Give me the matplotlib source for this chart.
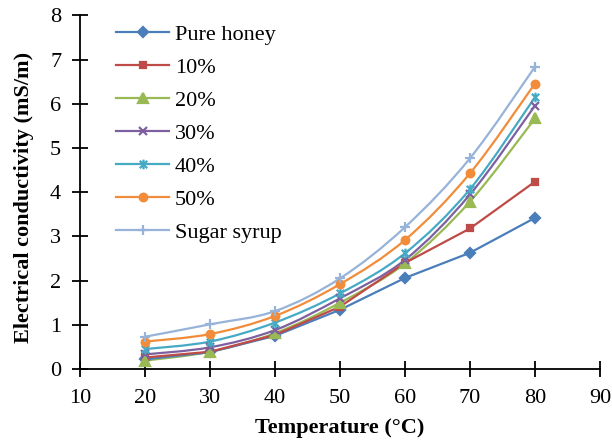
import numpy as np
import matplotlib.pyplot as plt
from matplotlib.path import Path
from matplotlib.patches import PathPatch

plt.rcParams['font.family'] = ['Liberation Serif', 'DejaVu Serif']

temperature = [20, 30, 40, 50, 60, 70, 80]

pure_honey = [0.22, 0.38, 0.75, 1.34, 2.06, 2.63, 3.42]
syrup_10 = [0.26, 0.39, 0.77, 1.41, 2.40, 3.18, 4.24]
syrup_20 = [0.19, 0.39, 0.81, 1.50, 2.39, 3.79, 5.67]
syrup_30 = [0.33, 0.49, 0.88, 1.60, 2.47, 3.95, 5.96]
syrup_40 = [0.45, 0.62, 1.05, 1.71, 2.62, 4.07, 6.15]
syrup_50 = [0.62, 0.79, 1.20, 1.92, 2.92, 4.43, 6.46]
sugar_syrup = [0.73, 1.01, 1.31, 2.05, 3.21, 4.77, 6.84]

labels = ['Pure honey', '10%', '20%', '30%', '40%', '50%', 'Sugar syrup']
series = [pure_honey, syrup_10, syrup_20, syrup_30, syrup_40, syrup_50, sugar_syrup]
colors = ['#4A7EBB', '#BE4B48', '#98B954', '#7D60A0', '#46AAC5', '#F18C3A', '#97B3D9']
smoothed = [False, False, True, True, True, True, True]

# x with a vertical bar through it
star = Path([(-1, -1), (1, 1), (-1, 1), (1, -1), (0, -1.3), (0, 1.3)],
            [Path.MOVETO, Path.LINETO, Path.MOVETO, Path.LINETO, Path.MOVETO, Path.LINETO])
markers = ['D', 's', '^', 'x', star, 'o', '+']
msizes = [5, 5, 6.5, 6, 7, 5.5, 7.5]


def smooth_path(x, y):
    # cubic Bezier segments through every point (Catmull-Rom style)
    pts = np.column_stack([x, y]).astype(float)
    ext = np.vstack([pts[0], pts, pts[-1]])
    verts = [pts[0]]
    codes = [Path.MOVETO]
    for i in range(len(pts) - 1):
        p0, p1, p2, p3 = ext[i], ext[i + 1], ext[i + 2], ext[i + 3]
        c1 = p1 + (p2 - p0) / 6
        c2 = p2 - (p3 - p1) / 6
        verts += [c1, c2, p2]
        codes += [Path.CURVE4] * 3
    return Path(verts, codes)


fig = plt.figure(figsize=(6.12, 4.4), dpi=100)
ax = fig.add_axes([0.1307, 0.1614, 0.8497, 0.8034])

for vals, lab, col, mk, ms, sm in zip(series, labels, colors, markers, msizes, smoothed):
    if sm:
        ax.add_patch(PathPatch(smooth_path(temperature, vals), fill=False,
                               edgecolor=col, lw=1.6, zorder=2))
        ax.plot(temperature, vals, ls='none', marker=mk, ms=ms, color=col,
                mec=col, mew=1.6, zorder=3)
        ax.plot([], [], color=col, lw=1.6, marker=mk, ms=ms, mew=1.6, label=lab)
    else:
        ax.plot(temperature, vals, color=col, lw=1.6, marker=mk, ms=ms, mew=1.6,
                label=lab, zorder=3)

ax.set_xlim(10, 90)
ax.set_ylim(0, 8)
ax.set_xticks(range(10, 91, 10))
ax.set_yticks(range(0, 9))
ax.spines['top'].set_visible(False)
ax.spines['right'].set_visible(False)
ax.spines['left'].set_linewidth(1.3)
ax.spines['bottom'].set_linewidth(1.3)
ax.tick_params(direction='inout', length=11, width=1.3, labelsize=16)
ax.tick_params(axis='x', pad=9)
ax.tick_params(axis='y', pad=8)

ax.set_xlabel('Temperature (°C)', fontsize=16, fontweight='bold', va='center')
ax.set_ylabel('Electrical conductivity (mS/m)', fontsize=16, fontweight='bold', va='center')
ax.xaxis.set_label_coords(0.5, -0.167)
ax.yaxis.set_label_coords(-0.108, 0.485)

ax.legend(loc='upper left', bbox_to_anchor=(116 / 612, 1 - 24 / 440),
          bbox_transform=fig.transFigure, frameon=False, fontsize=16,
          borderpad=0, borderaxespad=0, handlelength=2.4, labelspacing=0.56,
          handletextpad=0.25)

plt.savefig('out.png', dpi=100)
